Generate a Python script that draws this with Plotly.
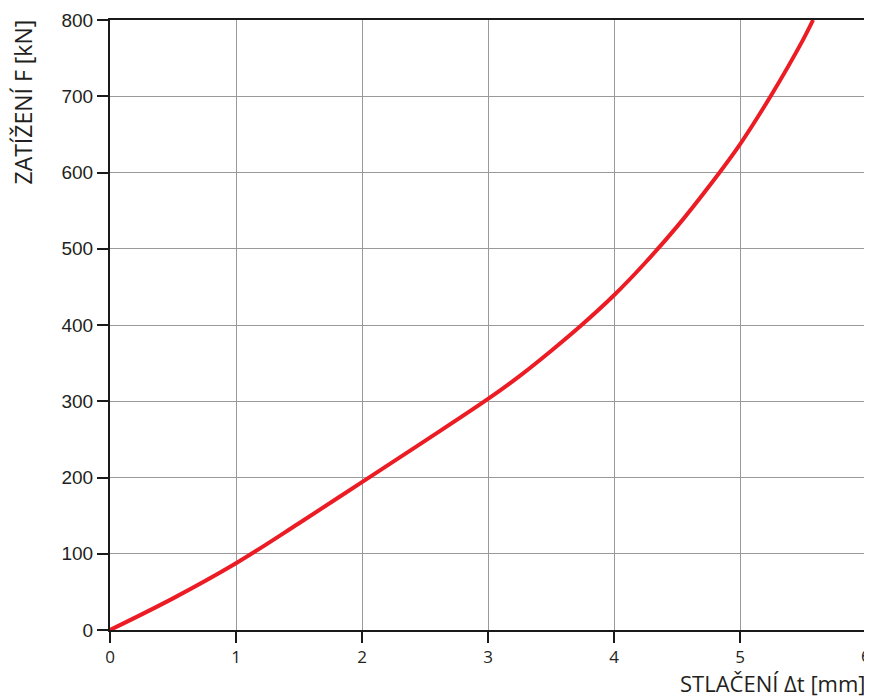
import plotly.graph_objects as go

# Data
deflection_mm = [0, 0.5, 1, 1.5, 2, 2.5, 3, 3.25, 3.5, 3.75, 4, 4.25, 4.5, 4.75, 5, 5.25, 5.5, 5.58]
load_kN = [0, 41.5, 87.5, 140, 194, 248, 303, 333, 366, 401, 439, 482, 529, 581, 637, 702, 774, 800]

x_ticks = [0, 1, 2, 3, 4, 5, 6]
x_tick_labels = ["0", "1", "2", "3", "4", "5", "6"]
y_ticks = [0, 100, 200, 300, 400, 500, 600, 700, 800]

TITLE_FONT = "Open Sans"
TICK_FONT = "Liberation Sans"

fig = go.Figure()
fig.add_trace(go.Scatter(
    x=deflection_mm, y=load_kN, mode="lines",
    line=dict(color="#ec1c24", width=4, shape="spline", smoothing=1.0),
    showlegend=False, hoverinfo="skip",
))

axis_common = dict(
    showline=True, linecolor="#1a1a1a", linewidth=2, mirror=True,
    showgrid=True, gridcolor="#9a9a9a", gridwidth=1,
    ticks="outside", ticklen=11, tickwidth=2, tickcolor="#1a1a1a",
    zeroline=False, automargin=False, ticklabeloverflow="allow",
)

# last x label is drawn as an annotation so it is not hidden at the figure edge
fig.update_xaxes(range=[0, 6], tickvals=x_ticks,
                 ticktext=x_tick_labels[:-1] + [""],
                 tickfont=dict(family=TITLE_FONT, size=17, color="#231f20"),
                 **axis_common)
fig.update_yaxes(range=[0, 800], tickvals=y_ticks,
                 tickfont=dict(family=TICK_FONT, size=19, color="#231f20"),
                 **axis_common)

fig.add_annotation(
    text=x_tick_labels[-1], xref="x", yref="paper", x=x_ticks[-1], y=0,
    xanchor="center", yanchor="top", yshift=-12, showarrow=False,
    font=dict(family=TITLE_FONT, size=17, color="#231f20"),
)
fig.add_annotation(
    text="STLAČENÍ Δt [mm]", xref="paper", yref="paper", x=1.0, y=0,
    xanchor="right", yanchor="top", yshift=-36, xshift=2, showarrow=False,
    font=dict(family=TITLE_FONT, size=22, color="#231f20"),
)
fig.add_annotation(
    text="ZATÍŽENÍ F [kN]", xref="paper", yref="paper", x=0, y=1.0,
    xanchor="center", yanchor="top", xshift=-88, yshift=2, textangle=-90, showarrow=False,
    font=dict(family=TITLE_FONT, size=23, color="#231f20"),
)

# page body has an 8px margin: size and margins compensate for it
fig.update_layout(
    width=864, height=691,
    margin=dict(l=102, r=6, t=12, b=69),
    paper_bgcolor="white", plot_bgcolor="white",
)

fig.write_html("out.html")
